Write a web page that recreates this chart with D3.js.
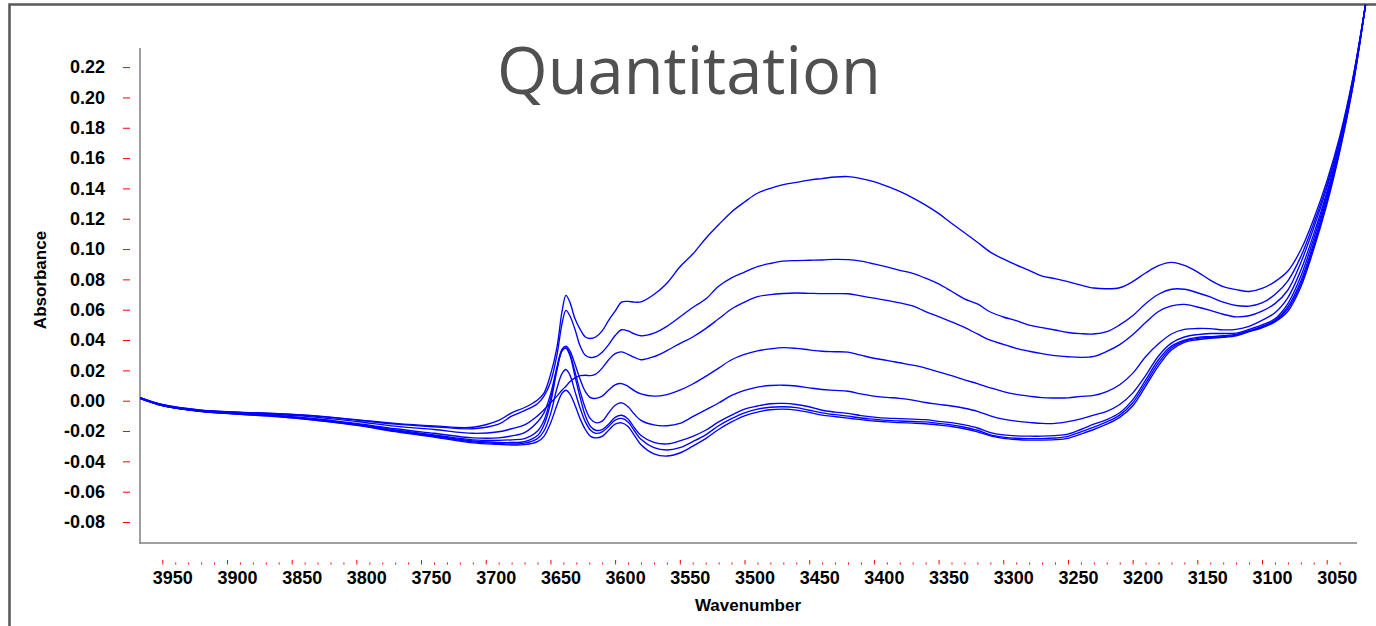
<!DOCTYPE html>
<html><head><meta charset="utf-8">
<script src="https://cdn.jsdelivr.net/npm/d3@7"></script>
<style>body{margin:0;background:#fff}svg{display:block}</style>
</head><body>
<svg id="c" width="1376" height="626"></svg>
<script>
const wavenumbers = [
3967, 3950, 3920, 3890, 3860, 3830, 3800, 3770, 3740, 3710,
3690, 3680, 3670, 3660, 3655, 3650, 3645, 3641, 3638, 3635,
3631, 3627, 3623, 3619, 3615, 3610, 3605, 3600, 3595, 3590,
3585, 3580, 3570, 3560, 3550, 3540, 3530, 3520, 3510, 3500,
3490, 3480, 3470, 3460, 3450, 3440, 3430, 3420, 3410, 3400,
3390, 3380, 3370, 3360, 3350, 3340, 3330, 3320, 3310, 3300,
3290, 3280, 3270, 3260, 3250, 3240, 3230, 3220, 3210, 3200,
3190, 3180, 3170, 3160, 3150, 3140, 3130, 3120, 3110, 3100,
3090, 3080, 3070, 3060, 3050, 3040, 3030, 3020];

const series1 = [
0.0020, -0.0025, -0.0062, -0.0075, -0.0085, -0.0100, -0.0125, -0.0150, -0.0166, -0.0175,
-0.0130, -0.0080, -0.0045, 0.0005, 0.0050, 0.0170, 0.0350, 0.0590, 0.0695, 0.0650,
0.0540, 0.0470, 0.0420, 0.0410, 0.0420, 0.0460, 0.0530, 0.0590, 0.0650, 0.0655,
0.0650, 0.0652, 0.0700, 0.0775, 0.0882, 0.0967, 0.1070, 0.1160, 0.1245, 0.1310,
0.1368, 0.1400, 0.1425, 0.1440, 0.1455, 0.1465, 0.1475, 0.1478, 0.1465, 0.1445,
0.1415, 0.1380, 0.1338, 0.1290, 0.1235, 0.1170, 0.1108, 0.1045, 0.0980, 0.0935,
0.0895, 0.0860, 0.0822, 0.0805, 0.0785, 0.0762, 0.0743, 0.0738, 0.0745, 0.0785,
0.0842, 0.0890, 0.0912, 0.0892, 0.0850, 0.0795, 0.0752, 0.0733, 0.0720, 0.0740,
0.0785, 0.0855, 0.0995, 0.1200, 0.1445, 0.1740, 0.2120, 0.2610];

const series2 = [
0.0020, -0.0026, -0.0063, -0.0077, -0.0088, -0.0103, -0.0128, -0.0155, -0.0172, -0.0185,
-0.0155, -0.0102, -0.0065, -0.0020, 0.0030, 0.0120, 0.0300, 0.0510, 0.0596, 0.0560,
0.0470, 0.0360, 0.0300, 0.0285, 0.0290, 0.0320, 0.0370, 0.0430, 0.0468, 0.0460,
0.0440, 0.0428, 0.0445, 0.0490, 0.0552, 0.0615, 0.0670, 0.0755, 0.0810, 0.0848,
0.0884, 0.0905, 0.0920, 0.0924, 0.0926, 0.0928, 0.0932, 0.0930, 0.0920, 0.0902,
0.0882, 0.0860, 0.0840, 0.0808, 0.0770, 0.0722, 0.0672, 0.0638, 0.0585, 0.0552,
0.0528, 0.0498, 0.0482, 0.0466, 0.0450, 0.0442, 0.0440, 0.0455, 0.0500, 0.0560,
0.0640, 0.0702, 0.0735, 0.0735, 0.0712, 0.0684, 0.0650, 0.0628, 0.0624, 0.0645,
0.0700, 0.0790, 0.0950, 0.1170, 0.1420, 0.1720, 0.2110, 0.2610];

const series3 = [
0.0018, -0.0028, -0.0065, -0.0080, -0.0092, -0.0110, -0.0137, -0.0168, -0.0190, -0.0215,
-0.0205, -0.0185, -0.0160, -0.0100, -0.0060, -0.0015, 0.0030, 0.0070, 0.0095, 0.0125,
0.0150, 0.0165, 0.0168, 0.0165, 0.0175, 0.0215, 0.0270, 0.0310, 0.0322, 0.0305,
0.0285, 0.0270, 0.0290, 0.0330, 0.0377, 0.0420, 0.0475, 0.0540, 0.0605, 0.0650,
0.0686, 0.0700, 0.0707, 0.0710, 0.0708, 0.0706, 0.0706, 0.0705, 0.0691, 0.0676,
0.0662, 0.0645, 0.0625, 0.0588, 0.0555, 0.0520, 0.0483, 0.0440, 0.0399, 0.0372,
0.0345, 0.0326, 0.0310, 0.0297, 0.0290, 0.0286, 0.0292, 0.0325, 0.0370, 0.0435,
0.0515, 0.0588, 0.0625, 0.0635, 0.0618, 0.0596, 0.0570, 0.0553, 0.0560, 0.0590,
0.0640, 0.0730, 0.0910, 0.1140, 0.1400, 0.1700, 0.2100, 0.2610];

const series4 = [
0.0017, -0.0030, -0.0068, -0.0084, -0.0098, -0.0120, -0.0150, -0.0185, -0.0215, -0.0245,
-0.0245, -0.0232, -0.0210, -0.0140, -0.0080, 0.0040, 0.0220, 0.0340, 0.0360, 0.0330,
0.0240, 0.0140, 0.0060, 0.0020, 0.0015, 0.0030, 0.0070, 0.0105, 0.0113, 0.0095,
0.0065, 0.0045, 0.0030, 0.0040, 0.0069, 0.0110, 0.0160, 0.0215, 0.0270, 0.0305,
0.0328, 0.0342, 0.0350, 0.0345, 0.0335, 0.0326, 0.0323, 0.0320, 0.0300, 0.0280,
0.0266, 0.0250, 0.0234, 0.0215, 0.0190, 0.0165, 0.0137, 0.0113, 0.0085, 0.0060,
0.0042, 0.0030, 0.0020, 0.0018, 0.0019, 0.0028, 0.0035, 0.0060, 0.0105, 0.0180,
0.0290, 0.0375, 0.0440, 0.0470, 0.0476, 0.0475, 0.0467, 0.0470, 0.0490, 0.0530,
0.0580, 0.0680, 0.0860, 0.1100, 0.1370, 0.1680, 0.2090, 0.2610];

const series5 = [
0.0016, -0.0030, -0.0068, -0.0085, -0.0100, -0.0124, -0.0155, -0.0192, -0.0225, -0.0258,
-0.0262, -0.0258, -0.0250, -0.0200, -0.0130, 0.0010, 0.0210, 0.0330, 0.0350, 0.0310,
0.0190, 0.0060, -0.0050, -0.0120, -0.0145, -0.0135, -0.0080, -0.0030, -0.0014, -0.0040,
-0.0090, -0.0130, -0.0160, -0.0165, -0.0150, -0.0105, -0.0060, -0.0015, 0.0035, 0.0068,
0.0090, 0.0100, 0.0102, 0.0097, 0.0085, 0.0074, 0.0068, 0.0062, 0.0045, 0.0030,
0.0022, 0.0015, 0.0004, -0.0012, -0.0024, -0.0035, -0.0050, -0.0070, -0.0100, -0.0122,
-0.0135, -0.0143, -0.0150, -0.0150, -0.0138, -0.0120, -0.0095, -0.0070, -0.0025, 0.0050,
0.0165, 0.0295, 0.0380, 0.0420, 0.0436, 0.0443, 0.0443, 0.0446, 0.0470, 0.0500,
0.0540, 0.0640, 0.0820, 0.1070, 0.1350, 0.1670, 0.2080, 0.2610];

const series6 = [
0.0015, -0.0032, -0.0070, -0.0087, -0.0102, -0.0127, -0.0158, -0.0197, -0.0231, -0.0266,
-0.0275, -0.0276, -0.0270, -0.0230, -0.0160, -0.0020, 0.0200, 0.0330, 0.0345, 0.0300,
0.0160, 0.0020, -0.0100, -0.0170, -0.0195, -0.0190, -0.0155, -0.0110, -0.0096, -0.0120,
-0.0180, -0.0230, -0.0275, -0.0285, -0.0265, -0.0235, -0.0195, -0.0140, -0.0095, -0.0055,
-0.0035, -0.0020, -0.0018, -0.0025, -0.0040, -0.0063, -0.0075, -0.0084, -0.0098, -0.0108,
-0.0115, -0.0118, -0.0122, -0.0125, -0.0136, -0.0145, -0.0160, -0.0180, -0.0210, -0.0225,
-0.0232, -0.0234, -0.0234, -0.0230, -0.0220, -0.0190, -0.0155, -0.0125, -0.0080, 0.0005,
0.0135, 0.0270, 0.0360, 0.0400, 0.0418, 0.0423, 0.0428, 0.0437, 0.0462, 0.0490,
0.0530, 0.0620, 0.0790, 0.1040, 0.1330, 0.1660, 0.2070, 0.2610];

const series7 = [
0.0015, -0.0032, -0.0070, -0.0088, -0.0104, -0.0129, -0.0160, -0.0200, -0.0236, -0.0272,
-0.0282, -0.0285, -0.0280, -0.0250, -0.0200, -0.0090, 0.0080, 0.0180, 0.0206, 0.0170,
0.0060, -0.0050, -0.0140, -0.0195, -0.0215, -0.0205, -0.0170, -0.0128, -0.0117, -0.0140,
-0.0200, -0.0255, -0.0310, -0.0325, -0.0310, -0.0270, -0.0225, -0.0165, -0.0118, -0.0080,
-0.0056, -0.0043, -0.0040, -0.0046, -0.0063, -0.0080, -0.0092, -0.0102, -0.0114, -0.0122,
-0.0130, -0.0134, -0.0137, -0.0140, -0.0150, -0.0160, -0.0175, -0.0195, -0.0225, -0.0240,
-0.0248, -0.0250, -0.0250, -0.0246, -0.0235, -0.0205, -0.0175, -0.0140, -0.0095, -0.0015,
0.0115, 0.0250, 0.0348, 0.0393, 0.0410, 0.0418, 0.0422, 0.0432, 0.0458, 0.0485,
0.0525, 0.0605, 0.0770, 0.1020, 0.1310, 0.1650, 0.2070, 0.2610];

const series8 = [
0.0014, -0.0033, -0.0072, -0.0090, -0.0106, -0.0131, -0.0162, -0.0204, -0.0240, -0.0278,
-0.0288, -0.0292, -0.0290, -0.0270, -0.0235, -0.0150, -0.0030, 0.0050, 0.0069, 0.0045,
-0.0030, -0.0120, -0.0190, -0.0235, -0.0245, -0.0235, -0.0195, -0.0155, -0.0146, -0.0170,
-0.0230, -0.0290, -0.0350, -0.0365, -0.0345, -0.0300, -0.0250, -0.0190, -0.0140, -0.0100,
-0.0075, -0.0060, -0.0056, -0.0062, -0.0077, -0.0095, -0.0105, -0.0115, -0.0125, -0.0134,
-0.0140, -0.0145, -0.0148, -0.0152, -0.0160, -0.0170, -0.0185, -0.0205, -0.0232, -0.0248,
-0.0256, -0.0260, -0.0260, -0.0257, -0.0248, -0.0220, -0.0190, -0.0155, -0.0110, -0.0035,
0.0095, 0.0230, 0.0335, 0.0385, 0.0402, 0.0412, 0.0418, 0.0428, 0.0455, 0.0480,
0.0520, 0.0590, 0.0750, 0.1000, 0.1290, 0.1640, 0.2060, 0.2610];

const yTickValues = [0.22, 0.20, 0.18, 0.16, 0.14, 0.12, 0.10, 0.08, 0.06, 0.04, 0.02, 0.00, -0.02, -0.04, -0.06, -0.08];
const yTickLabels = ["0.22","0.20","0.18","0.16","0.14","0.12","0.10","0.08","0.06","0.04","0.02","0.00","-0.02","-0.04","-0.06","-0.08"];
const xMajorTicks = [3950, 3900, 3850, 3800, 3750, 3700, 3650, 3600, 3550, 3500, 3450, 3400, 3350, 3300, 3250, 3200, 3150, 3100, 3050];
const xTickLabels = ["3950","3900","3850","3800","3750","3700","3650","3600","3550","3500","3450","3400","3350","3300","3250","3200","3150","3100","3050"];
const titleText = "Quantitation";
const xTitle = "Wavenumber";
const yTitle = "Absorbance";

const allSeries = [series1, series2, series3, series4, series5, series6, series7, series8];
const FONT = "'Liberation Sans', Arial, Helvetica, sans-serif";
const TICK_RED = "#ff0000";

const svg = d3.select("#c");

// outer frame
svg.append("path").attr("d", "M9.5,640 V4.5 H1390")
  .attr("fill", "none").attr("stroke", "#5a5a5a").attr("stroke-width", 2.6);

const x = d3.scaleLinear().domain([3950, 3050]).range([162.3, 1326.7]);
const y = d3.scaleLinear().domain([-0.08, 0.22]).range([522.0, 67.1]);

// axis lines
svg.append("line").attr("x1", 140).attr("x2", 140).attr("y1", 48).attr("y2", 543.5)
  .attr("stroke", "#808080").attr("stroke-width", 1.5);
svg.append("line").attr("x1", 139.25).attr("x2", 1357).attr("y1", 543).attr("y2", 543)
  .attr("stroke", "#808080").attr("stroke-width", 1.5);

// y axis ticks + labels
const gy = svg.append("g").attr("transform", "translate(130,0)")
  .call(d3.axisLeft(y).tickValues(yTickValues).tickFormat((d, i) => yTickLabels[i]).tickSize(7).tickPadding(18));
gy.select(".domain").remove();
gy.selectAll(".tick line").attr("stroke", TICK_RED);
gy.selectAll(".tick text").attr("font-family", FONT).attr("font-weight", "bold")
  .attr("font-size", 18).attr("fill", "#000");

// x axis ticks (pointing up from baseline)
const xMinor = d3.range(3040, 3950, 10).filter(v => v % 50 !== 0);
const gxMinor = svg.append("g").attr("transform", "translate(0,564.5)")
  .call(d3.axisTop(x).tickValues(xMinor).tickFormat("").tickSize(2));
gxMinor.select(".domain").remove();
gxMinor.selectAll(".tick line").attr("stroke", TICK_RED);
const gxMajor = svg.append("g").attr("transform", "translate(0,564.5)")
  .call(d3.axisTop(x).tickValues(xMajorTicks).tickFormat("").tickSize(4.5));
gxMajor.select(".domain").remove();
gxMajor.selectAll(".tick line").attr("stroke", TICK_RED);

svg.append("g").selectAll("text").data(xMajorTicks).join("text")
  .attr("x", d => x(d) + 10.5).attr("y", 584)
  .attr("text-anchor", "middle").attr("font-family", FONT).attr("font-weight", "bold")
  .attr("font-size", 18).attr("fill", "#000")
  .text((d, i) => xTickLabels[i]);

// axis titles
svg.append("text").attr("x", 748).attr("y", 611).attr("text-anchor", "middle")
  .attr("font-family", FONT).attr("font-weight", "bold").attr("font-size", 17).attr("fill", "#000")
  .text(xTitle);
svg.append("text").attr("transform", "translate(46,280) rotate(-90)").attr("text-anchor", "middle")
  .attr("font-family", FONT).attr("font-weight", "bold").attr("font-size", 17).attr("fill", "#000")
  .text(yTitle);

// title
svg.append("text").attr("x", 689).attr("y", 94).attr("text-anchor", "middle")
  .attr("font-family", "'Open Sans', 'Noto Sans', sans-serif").attr("font-size", 65).attr("fill", "#505050")
  .text(titleText);

// spectra
const line = d3.line()
  .x((d, i) => x(wavenumbers[i]))
  .y(d => y(d))
  .curve(d3.curveCatmullRom.alpha(0.5));

svg.append("g").selectAll("path").data(allSeries).join("path")
  .attr("d", d => line(d))
  .attr("fill", "none").attr("stroke", "#0000ff").attr("stroke-width", 1.35);
</script>
</body></html>
